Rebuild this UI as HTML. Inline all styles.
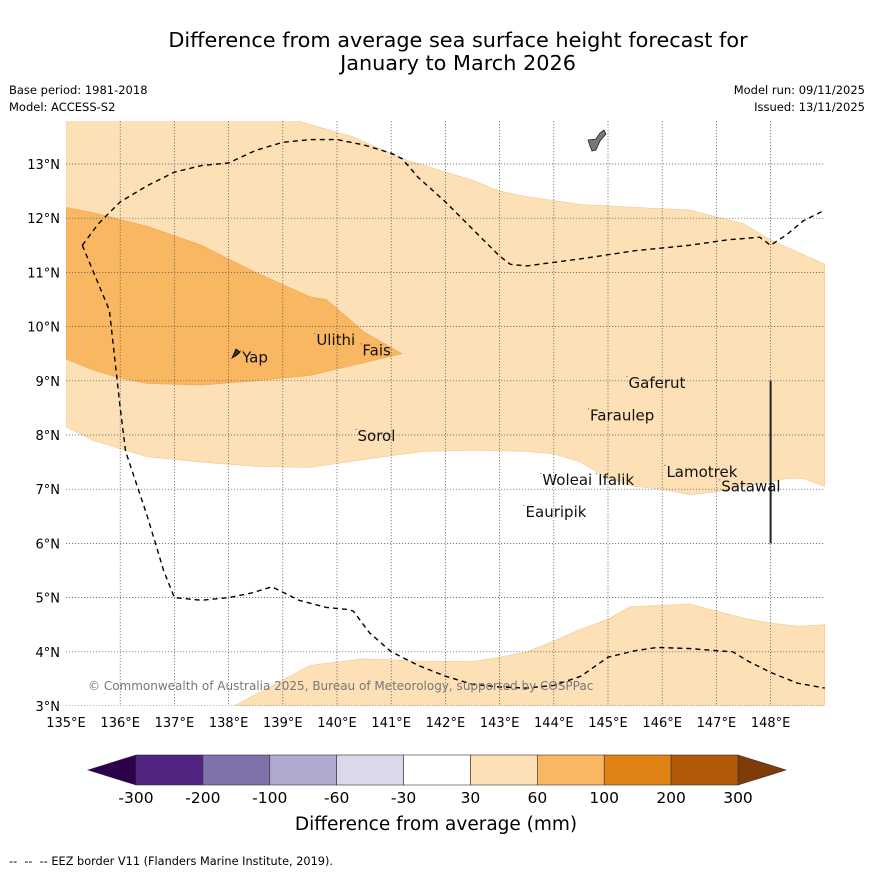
<!DOCTYPE html>
<html><head><meta charset="utf-8"><style>
body{margin:0;background:#fff;width:873px;height:873px;overflow:hidden;font-family:"Liberation Sans","DejaVu Sans",sans-serif}
svg text{font-family:"DejaVu Sans","Liberation Sans",sans-serif}
</style></head><body>
<svg id="c" width="873" height="873" viewBox="0 0 873 873">
<rect width="873" height="873" fill="#fff"/>
<text x="458" y="47" font-size="20.8" text-anchor="middle">Difference from average sea surface height forecast for</text>
<text x="458" y="70" font-size="20.8" text-anchor="middle">January to March 2026</text>
<text x="9" y="94" font-size="11.5">Base period: 1981-2018</text>
<text x="9" y="111" font-size="11.5">Model: ACCESS-S2</text>
<text x="865" y="94" font-size="11.5" text-anchor="end">Model run: 09/11/2025</text>
<text x="865" y="111" font-size="11.5" text-anchor="end">Issued: 13/11/2025</text>
<g id="map"></g>
<g id="cb"></g>
<text x="436" y="830" font-size="18.5" text-anchor="middle">Difference from average (mm)</text>
<text x="9" y="865" font-size="11.3" xml:space="preserve" style="white-space:pre">--  --  -- EEZ border V11 (Flanders Marine Institute, 2019).</text>
</svg>
<script>
const lonTicks=[135,136,137,138,139,140,141,142,143,144,145,146,147,148];
const latTicks=[3,4,5,6,7,8,9,10,11,12,13];
const lightUpper=[[135,13.8],[139.25,13.8],[140.3,13.5],[141.2,13.1],[142.5,12.7],[143,12.5],[143.5,12.4],[144.5,12.25],[145.5,12.2],[146.5,12.15],[147.5,11.9],[148,11.6],[149,11.15],[149,7.05],[148.6,7.2],[148.3,7.2],[147.5,7.05],[147,6.95],[146.5,6.9],[146,7.0],[145.5,7.05],[145,7.2],[144.5,7.5],[144,7.65],[143.5,7.7],[142.5,7.72],[141.6,7.7],[140.5,7.55],[139.5,7.4],[138.5,7.42],[137.5,7.5],[136.5,7.6],[135.5,7.9],[135,8.15]];
const lightLower=[[138.1,3],[139.5,3.75],[140.5,3.87],[141.5,3.83],[142.5,3.82],[143,3.9],[143.5,4.0],[144,4.2],[144.5,4.42],[145,4.6],[145.4,4.83],[146.5,4.88],[147,4.75],[147.5,4.62],[148,4.53],[148.5,4.47],[149,4.5],[149,3]];
const darkArea=[[135,12.2],[135.5,12.1],[136.5,11.85],[137.5,11.5],[138.5,11],[139.5,10.55],[139.8,10.5],[140.5,9.9],[141.2,9.5],[139.5,9.1],[138.5,9.0],[137.5,8.92],[136.5,8.95],[136,9.05],[135.5,9.2],[135,9.4]];
const eezNorth=[[135.3,11.5],[135.6,11.9],[136,12.3],[136.5,12.6],[137,12.85],[137.5,12.97],[138,13.02],[138.5,13.25],[139,13.4],[139.5,13.45],[140,13.45],[140.5,13.35],[141,13.2],[141.2,13.1],[141.5,12.75],[142,12.3],[142.5,11.8],[143,11.3],[143.2,11.15],[143.5,11.12],[144.5,11.25],[145.5,11.4],[146.5,11.5],[147.2,11.6],[147.8,11.65],[148,11.5],[148.3,11.7],[148.6,11.95],[149,12.15]];
const eezSouth=[[135.3,11.5],[135.8,10.3],[136,8.5],[136.1,7.7],[136.5,6.5],[136.8,5.5],[137,5.0],[137.5,4.95],[138,5.0],[138.4,5.08],[138.8,5.2],[139.3,4.95],[139.8,4.82],[140.2,4.78],[140.3,4.75],[140.6,4.35],[141,4.0],[141.5,3.75],[142,3.55],[142.5,3.4],[143,3.35],[143.5,3.33],[144,3.38],[144.5,3.55],[145,3.9],[145.5,4.02],[145.9,4.08],[146.5,4.06],[147,4.02],[147.3,4.0],[147.6,3.82],[148,3.62],[148.5,3.42],[149,3.33]];
const islandNames=["Yap","Ulithi","Fais","Sorol","Gaferut","Faraulep","Woleai","Ifalik","Lamotrek","Satawal","Eauripik"];
const islandLon=[138.23,139.6,140.45,140.36,145.36,144.65,143.77,144.8,146.06,147.07,143.46];
const islandLat=[9.45,9.77,9.58,8.0,8.98,8.38,7.19,7.19,7.34,7.07,6.6];
const cbLevels=["-300","-200","-100","-60","-30","30","60","100","200","300"];
const cbColors=["#512481","#7f72aa","#b0a9d0","#d9d9eb","#ffffff","#fde0b6","#fab762","#e08214","#b25808"];
const NS="http://www.w3.org/2000/svg";
const X0=66,X1=825,Y0=121,Y1=706;
const xs=lon=>X0+(lon-135)*54.2;
const ys=lat=>706-(lat-3)*54.2;
function mk(t,a,p){const e=document.createElementNS(NS,t);for(const k in a)e.setAttribute(k,a[k]);(p||document.getElementById('map')).appendChild(e);return e;}
const pts=a=>a.map(p=>xs(p[0]).toFixed(1)+','+ys(p[1]).toFixed(1)).join(' ');
let cp=mk('clipPath',{id:'clip'});mk('rect',{x:X0,y:Y0,width:X1-X0,height:Y1-Y0},cp);
const g=mk('g',{'clip-path':'url(#clip)'});
let e;
e=mk('polygon',{points:pts(lightUpper),fill:'#fde0b6',stroke:'#f3c890','stroke-width':0.6},g);

e=mk('polygon',{points:pts(lightLower),fill:'#fde0b6',stroke:'#f3c890','stroke-width':0.6},g);

e=mk('polygon',{points:pts(darkArea),fill:'#fab762',stroke:'#eda650','stroke-width':0.6},g);

lonTicks.forEach(l=>{if(l>135){e=mk('line',{x1:xs(l),x2:xs(l),y1:Y0,y2:Y1,stroke:'#555','stroke-width':0.7,'stroke-dasharray':'1.2 1.8'},g);
}});
latTicks.forEach(l=>{e=mk('line',{x1:X0,x2:X1,y1:ys(l),y2:ys(l),stroke:'#555','stroke-width':0.7,'stroke-dasharray':'1.2 1.8'},g);
});
[eezNorth,eezSouth].forEach(a=>{e=mk('polyline',{points:pts(a),fill:'none',stroke:'#000','stroke-width':1.4,'stroke-dasharray':'5 4'},g);
});
e=mk('line',{x1:xs(148),x2:xs(148),y1:ys(9),y2:ys(6),stroke:'#222','stroke-width':2},g);

e=mk('polygon',{points:'588,140 596,139 600,133 604,130 606,134 600,141 596,150 592,151 590,146',fill:'#777',stroke:'#222','stroke-width':0.8},g);

e=mk('polygon',{points:'232,358 236,349 240,352 237,355',fill:'#333',stroke:'#000','stroke-width':0.8},g);

islandNames.forEach((n,i)=>{const x=xs(islandLon[i]),y=ys(islandLat[i]);
e=mk('rect',{x:x-1,y:y-6,width:1,height:1,fill:'#555'},g);

e=mk('text',{x:x+1,y:y+6,'font-size':15,fill:'#111'},g);e.textContent=n;
});
e=mk('text',{x:88,y:690,'font-size':12,fill:'#777'},g);e.textContent='© Commonwealth of Australia 2025, Bureau of Meteorology, supported by COSPPac';

lonTicks.forEach(l=>{e=mk('text',{x:xs(l),y:727,'font-size':13,'text-anchor':'middle'});e.textContent=l+'°E';
});
latTicks.forEach(l=>{e=mk('text',{x:60,y:ys(l)+5,'font-size':13,'text-anchor':'end'});e.textContent=l+'°N';
});
const cb=document.getElementById('cb');const cx0=136,cw=(738-136)/cbColors.length,cy=755,ch=30;
e=mk('polygon',{points:`${cx0},${cy} 88,${cy+ch/2} ${cx0},${cy+ch}`,fill:'#2d004b',stroke:'#333','stroke-width':0.6},cb);

e=mk('polygon',{points:`738,${cy} 786,${cy+ch/2} 738,${cy+ch}`,fill:'#7f3b08',stroke:'#333','stroke-width':0.6},cb);

cbColors.forEach((c,i)=>{e=mk('rect',{x:cx0+i*cw,y:cy,width:cw,height:ch,fill:c,stroke:'#333','stroke-width':0.6},cb);
});
cbLevels.forEach((t,i)=>{e=mk('text',{x:cx0+i*cw,y:803,'font-size':15.5,'text-anchor':'middle'},cb);e.textContent=t;
});
</script>
</body></html>
